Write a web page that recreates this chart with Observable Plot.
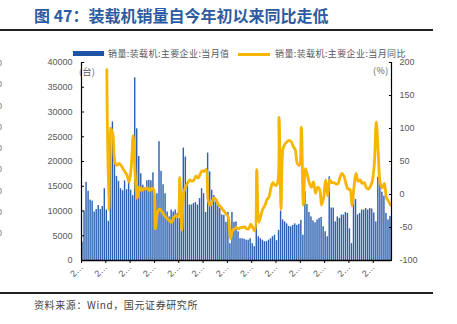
<!DOCTYPE html>
<html><head><meta charset="utf-8">
<script src="https://cdn.jsdelivr.net/npm/d3@7"></script>
<script src="https://cdn.jsdelivr.net/npm/@observablehq/plot@0.6"></script>
<style>
body{margin:0;width:457px;height:324px;position:relative;overflow:hidden;background:#fff;font-family:"Noto Sans CJK SC","Liberation Sans",sans-serif;}
.title{position:absolute;left:34px;top:4px;font-size:16px;line-height:22px;font-weight:700;color:#2d5b9f;letter-spacing:0px;white-space:nowrap}
.rule1{position:absolute;left:0;top:29px;width:433px;height:2px;background:#222}
.rule2{position:absolute;left:0;top:292px;width:433px;height:1.5px;background:#222}
.caption{position:absolute;left:34px;top:298px;font-size:10px;line-height:14px;color:#444;white-space:nowrap;letter-spacing:0.6px}
#chart{position:absolute;left:0;top:48px}
.lg{position:absolute;font-size:9px;line-height:10px;color:#595959;white-space:nowrap;letter-spacing:0.4px}
.sw{position:absolute}
.cut{position:absolute;left:-3px;font-size:9px;line-height:10px;color:#777;font-family:"Liberation Sans",sans-serif}
</style></head>
<body>
<div class="title">图 47：装载机销量自今年初以来同比走低</div>
<div class="rule1"></div>
<div id="chart"></div>
<div class="sw" style="left:73px;top:51px;width:31px;height:5px;background:#1f55a5"></div>
<div class="lg" style="left:108px;top:49px">销量:装载机:主要企业:当月值</div>
<div class="sw" style="left:238px;top:53px;width:32px;height:2.5px;background:#f7b500"></div>
<div class="lg" style="left:275px;top:49px">销量:装载机:主要企业:当月同比</div>
<div class="lg" style="left:79px;top:67px">(台)</div>
<div class="lg" style="left:373px;top:66px">(%)</div>
<div class="rule2"></div>
<div class="caption">资料来源：Wind，国元证券研究所</div>
<script>
// monthly loader sales (units), 2009-01 .. 2021-09
const sales2009 = [3700,10000,15800,14000,12200,12000,9800,10300,11100,10300,10900,14500];
const sales2010 = [10200,7900,26800,28000,21200,17000,16000,14500,14100,16100,14300,16200];
const sales2011 = [14200,13100,36900,26600,21000,17500,15200,14700,16100,16200,16100,17700];
const sales2012 = [6200,13500,24000,18000,15300,13500,9800,8800,10200,9800,10200,9500];
const sales2013 = [8500,6500,22700,20900,15500,11200,11200,11500,11700,11200,12500,14500];
const sales2014 = [13500,9700,21700,17900,14200,13100,11800,11100,10500,9200,9100,7700];
const sales2015 = [9700,3400,9700,7700,7800,5800,4400,4400,4300,4100,4100,4400];
const sales2016 = [3400,2800,13000,4800,4400,4100,3800,3800,4100,4400,4800,5100];
const sales2017 = [4000,6100,10000,8200,7800,7400,6900,6800,7100,7400,7100,7300];
const sales2018 = [8100,5100,13900,11300,9700,8800,8000,7600,8200,8500,8700,6800];
const sales2019 = [5800,4800,16900,10600,10600,7800,8800,8500,9200,9200,9700,9500];
const sales2020 = [6400,3400,12600,12300,9200,9500,10200,10200,10500,10200,10500,10400];
const sales2021 = [9600,7800,16800,15500,13800,13000,9500,8200,8900];
// year-on-year (%), 2010-01 .. 2021-09
const yoy2010 = [189,-24,100,90,49,44,47,44,39,34,29,19];
const yoy2011 = [40,89,30,-6,11,6,9,8,10,6,9,8];
const yoy2012 = [-52,-27,-22,-25,-30,-34,-37,-40,-42,-35,-32,-34];
const yoy2013 = [26,-54,4,12,18,22,20,22,28,25,30,36];
const yoy2014 = [35,38,-8,-17,-10,-5,-8,-15,-18,-22,-26,-30];
const yoy2015 = [-35,-67,-55,-52,-50,-52,-50,-50,-49,-52,-52,-45];
const yoy2016 = [-50,-55,38,-42,-32,-22,-17,-8,-4,10,18,14];
const yoy2017 = [15,117,-22,70,77,80,82,80,73,68,47,44];
const yoy2018 = [102,-16,39,29,17,11,19,2,11,8,-16,-5];
const yoy2019 = [22,-2,22,18,18,16,16,25,32,28,17,8];
const yoy2020 = [8,-17,12,32,20,22,17,18,11,8,12,20];
const yoy2021 = [45,110,60,16,10,17,-5,-10,-16];
// axis ticks
const leftTicks = [0,5000,10000,15000,20000,25000,30000,35000,40000];
const rightTicks = [-100,-50,0,50,100,150,200];
const xTickLabels = ["2009-01","2010-01","2011-01","2012-01","2013-01","2014-01","2015-01","2016-01","2017-01","2018-01","2019-01","2020-01","2021-01"];

const sales = [].concat(sales2009,sales2010,sales2011,sales2012,sales2013,sales2014,sales2015,sales2016,sales2017,sales2018,sales2019,sales2020,sales2021);
const yoy = [].concat(yoy2010,yoy2011,yoy2012,yoy2013,yoy2014,yoy2015,yoy2016,yoy2017,yoy2018,yoy2019,yoy2020,yoy2021);
const barData = sales.map((v,i)=>({i,v}));
const lineData = yoy.map((v,k)=>({i:k+12,v}));
const N = sales.length;
const toY = p => (p + 100) / 300 * 40000;

const chart = Plot.plot({
  width:457, height:240,
  marginLeft:81, marginRight:66, marginTop:14, marginBottom:28,
  x:{domain:[0,N], label:null},
  y:{domain:[0,40000], label:null},
  style:{fontFamily:"'Liberation Sans', Arial, sans-serif", fontSize:"9px", color:"#595959", background:"transparent"},
  marks:[
    Plot.rectY(barData, {x1:d=>d.i+0.15, x2:d=>d.i+0.85, y:"v", fill:"#2b60b0"}),
    Plot.line(lineData, {x:d=>d.i+0.5, y:d=>toY(d.v), stroke:"#f7b500", strokeWidth:2.8, curve:"catmull-rom"}),
    Plot.axisY(leftTicks, {anchor:"left", tickSize:-3, tickPadding:12, tickFormat:d=>String(d), stroke:"#000"}),
    Plot.axisY(rightTicks.map(toY), {anchor:"right", tickSize:-3, tickPadding:11, tickFormat:v=>String(Math.round(v/40000*300-100)), stroke:"#000"}),
    Plot.axisX(d3.range(0,N,12), {anchor:"bottom", tickSize:3, tickPadding:2, tickRotate:-45, tickFormat:i=>xTickLabels[i/12].slice(0,1)+"…", stroke:"#000"}),
    Plot.ruleX([0], {stroke:"#000", strokeWidth:1.2}),
    Plot.ruleX([N], {stroke:"#000", strokeWidth:1.2}),
    Plot.ruleY([0], {stroke:"#000", strokeWidth:1.5})
  ]
});
document.getElementById("chart").appendChild(chart);

// clipped tick labels of a neighbouring chart at the left edge
const cutYs = [58,79,101,122,143,164,186,207,228];
cutYs.forEach(y=>{const s=document.createElement("div");s.className="cut";s.style.top=y+"px";s.textContent="0";document.body.appendChild(s);});
</script>
</body></html>
